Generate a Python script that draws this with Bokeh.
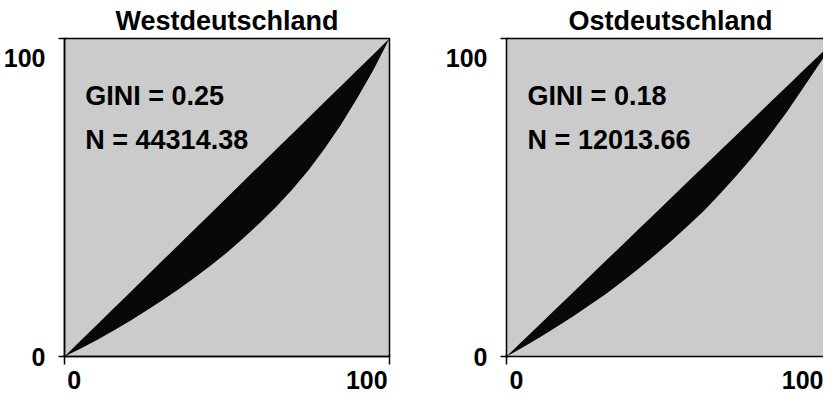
from bokeh.plotting import figure
from bokeh.layouts import row
from bokeh.models import Range1d, FixedTicker, LinearAxis
from bokeh.core.properties import value
from bokeh.embed import file_html
from bokeh.resources import INLINE

# ---- data ----
regions = ["Westdeutschland", "Ostdeutschland"]
gini = [0.25, 0.18]
n_obs = [44314.38, 12013.66]
pop_share = [0, 5, 10, 15, 20, 25, 30, 35, 40, 45, 50,
             55, 60, 65, 70, 75, 80, 85, 90, 95, 100]
income_west = [0, 2.5, 5.2, 8.1, 11.1, 14.3, 17.6, 21.1, 24.8, 28.6, 32.7,
               37.2, 41.9, 46.9, 52.4, 58.5, 65.3, 72.8, 81.1, 90.0, 100]
income_east = [0, 2.9, 6.0, 9.2, 12.5, 16.0, 19.6, 23.5, 27.6, 31.9, 36.4,
               41.1, 46.0, 51.5, 57.2, 63.3, 70.0, 77.0, 84.6, 92.3, 100]
axis_ticks = [0, 100]
axis_tick_labels = ["0", "100"]

FONT = "Liberation Sans"
FS = "27px"
TICK_FS = "25px"
x_label_pos = [3, 93]
y_label_pos = [0, 94]
PX_PER_UNIT = 3.3


def make_panel(title, g, n, income, width, b_left, b_right, x_end, full_outline,
               title_align, title_offset):
    p = figure(width=width, height=394, output_backend="svg", toolbar_location=None,
               x_range=Range1d(0, x_end), y_range=Range1d(0, 100),
               min_border_left=b_left, min_border_right=b_right,
               min_border_top=37, min_border_bottom=38,
               x_axis_location=None, y_axis_location=None, title=title)
    p.grid.visible = False
    p.title.text_font = FONT
    p.title.text_font_size = FS
    p.title.text_font_style = "bold"
    p.title.text_color = "black"
    p.title.align = title_align
    p.title.offset = title_offset
    p.title.standoff = 6
    p.background_fill_color = "#cbcbcb"
    p.border_fill_color = "white"
    if full_outline:
        p.outline_line_color = "black"
        p.outline_line_width = 1.5
    else:
        p.outline_line_color = None
        top = LinearAxis(ticker=FixedTicker(ticks=[]))
        top.major_tick_out = 0
        top.major_tick_in = 0
        top.minor_tick_out = 0
        top.minor_tick_in = 0
        top.major_label_standoff = 0
        top.major_label_text_font_size = "0px"
        top.axis_line_color = "black"
        top.axis_line_width = 1.5
        p.add_layout(top, "above")

    # area between the line of equality and the Lorenz curve
    p.varea(x=pop_share, y1=income, y2=pop_share, fill_color="#080808")

    # axes
    xa = LinearAxis(ticker=FixedTicker(ticks=x_label_pos, minor_ticks=axis_ticks))
    xa.major_label_overrides = {k: v for k, v in zip(x_label_pos, axis_tick_labels)}
    ya = LinearAxis(ticker=FixedTicker(ticks=y_label_pos, minor_ticks=axis_ticks))
    ya.major_label_overrides = {k: v for k, v in zip(y_label_pos, axis_tick_labels)}
    for ax, out in ((xa, 8), (ya, 6)):
        ax.major_tick_out = 0
        ax.major_tick_in = 0
        ax.minor_tick_out = out
        ax.minor_tick_in = 2
        ax.minor_tick_line_color = "black"
        ax.minor_tick_line_width = 1.5
        ax.axis_line_color = "black"
        ax.axis_line_width = 1.5
        ax.major_label_text_font = FONT
        ax.major_label_text_font_size = TICK_FS
        ax.major_label_text_font_style = "bold"
        ax.major_label_text_color = "black"
    xa.major_label_standoff = 6
    ya.major_label_standoff = 13
    p.add_layout(xa, "below")
    p.add_layout(ya, "left")

    p.text(x=[6.4, 6.4], y=[81.8, 68.2],
           text=[f"GINI =  {g:.2f}", f"N = {n:.2f}"],
           text_font=value(FONT), text_font_size=FS, text_font_style="bold",
           text_color="black", text_baseline="alphabetic", text_align="left")
    return p


p1 = make_panel(regions[0], gini[0], n_obs[0], income_west, 420, 59, 31, 100, True,
                "center", 0)
p2 = make_panel(regions[1], gini[1], n_obs[1], income_east, 403, 86, 0,
                317 / PX_PER_UNIT, False, "left", 62)

layout = row(p1, p2)
open("out.html", "w").write(file_html(layout, INLINE))
